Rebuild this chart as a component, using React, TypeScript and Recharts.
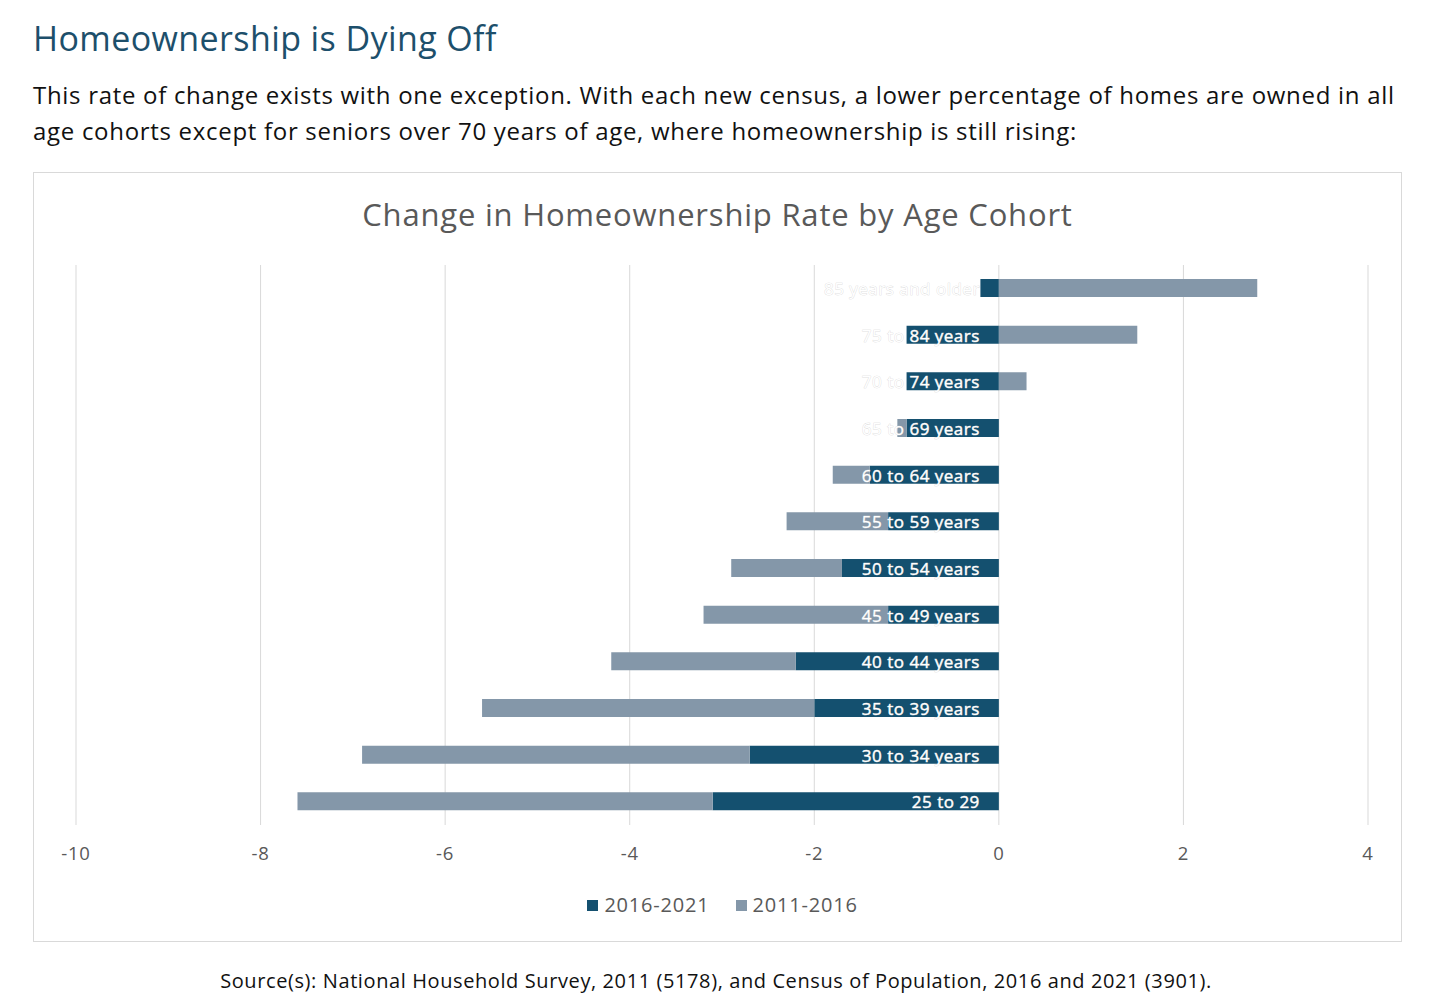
import React from 'react';
import { BarChart, Bar, XAxis, YAxis, CartesianGrid } from 'recharts';

const AGE_GROUPS = [
  '85 years and older', '75 to 84 years', '70 to 74 years', '65 to 69 years',
  '60 to 64 years', '55 to 59 years', '50 to 54 years', '45 to 49 years',
  '40 to 44 years', '35 to 39 years', '30 to 34 years', '25 to 29',
];
const CHANGE_2016_2021 = [-0.2, -1.0, -1.0, -1.0, -1.4, -1.2, -1.7, -1.2, -2.2, -2.0, -2.7, -3.1];
const CHANGE_2011_2016 = [2.8, 1.5, 0.3, -0.1, -0.4, -1.1, -1.2, -2.0, -2.0, -3.6, -4.2, -4.5];
const X_TICKS = [-10, -8, -6, -4, -2, 0, 2, 4];

const DARK = '#14506f';
const GREY = '#8497a9';
const FONT = '"Open Sans", Roboto, sans-serif';

const data = AGE_GROUPS.map((age, i) => ({
  age,
  recent: CHANGE_2016_2021[i],
  earlier: CHANGE_2011_2016[i],
}));

const CHART_W = 1367;
const CHART_H = 768;
// y axis is 1px wide (a 0-wide axis draws no ticks), so left margin is 41
const MARGIN = { top: 92, right: 33, bottom: 76, left: 41 };
const Y_AXIS_W = 1;
const X_MIN = -10;
const X_MAX = 4;
const PLOT_LEFT = MARGIN.left + Y_AXIS_W;
const PLOT_W = CHART_W - PLOT_LEFT - MARGIN.right;
const ZERO_X = PLOT_LEFT + ((0 - X_MIN) / (X_MAX - X_MIN)) * PLOT_W;

function CohortTick({ y, payload }: { y?: number; payload?: { value: string } }) {
  return (
    <text
      x={ZERO_X - 19}
      y={y}
      textAnchor="end"
      dominantBaseline="central"
      fill="#ffffff"
      stroke="#d4d4d4"
      strokeWidth={0.6}
      paintOrder="stroke"
      fontSize={17}
      letterSpacing={0.5}
      fontFamily={FONT}
    >
      {payload?.value}
    </text>
  );
}

export default function App() {
  return (
    <div style={{ position: 'absolute', left: 0, top: 0, width: 1456, height: 1007, background: '#fff', fontFamily: FONT, overflow: 'hidden' }}>
      <div style={{ position: 'absolute', left: 33, top: 18, fontSize: 34, lineHeight: '40px', letterSpacing: 0.4, color: '#1d4f6b', whiteSpace: 'nowrap' }}>
        Homeownership is Dying Off
      </div>
      <div style={{ position: 'absolute', left: 33, top: 77, fontSize: 24, lineHeight: '36px', letterSpacing: 0.7, color: '#111', whiteSpace: 'nowrap' }}>
        This rate of change exists with one exception. With each new census, a lower percentage of homes are owned in all
        <br />
        age cohorts except for seniors over 70 years of age, where homeownership is still rising:
      </div>

      <div style={{ position: 'absolute', left: 33, top: 172, width: CHART_W, height: CHART_H, border: '1px solid #d9d9d9' }}>
        <div style={{ position: 'absolute', left: 0, top: 21, width: '100%', textAlign: 'center', fontSize: 31, lineHeight: '40px', letterSpacing: 0.8, color: '#595959' }}>
          Change in Homeownership Rate by Age Cohort
        </div>
        <BarChart
          width={CHART_W}
          height={CHART_H}
          data={data}
          layout="vertical"
          stackOffset="sign"
          margin={MARGIN}
          barSize={18}
        >
          <CartesianGrid horizontal={false} vertical stroke="#d9d9d9" />
          <XAxis
            type="number"
            domain={[X_MIN, X_MAX]}
            ticks={X_TICKS}
            allowDataOverflow
            tickLine={false}
            axisLine={false}
            tickMargin={16}
            tick={{ fontSize: 18.5, fill: '#595959', fontFamily: FONT, letterSpacing: 0.8 }}
            height={40}
          />
          <Bar dataKey="recent" name="2016-2021" stackId="a" fill={DARK} isAnimationActive={false} />
          <Bar dataKey="earlier" name="2011-2016" stackId="a" fill={GREY} isAnimationActive={false} />
          <YAxis
            type="category"
            dataKey="age"
            width={Y_AXIS_W}
            interval={0}
            tickLine={false}
            axisLine={false}
            tick={(props: any) => <CohortTick {...props} />}
          />
        </BarChart>
        <div style={{ position: 'absolute', left: 0, top: 720, width: '100%', display: 'flex', justifyContent: 'center', gap: 26, fontSize: 20, lineHeight: '24px', letterSpacing: 0.8, color: '#595959', paddingLeft: 10, boxSizing: 'border-box' }}>
          <span style={{ display: 'flex', alignItems: 'center', gap: 6 }}>
            <span style={{ width: 11, height: 11, background: DARK, display: 'inline-block' }} />
            2016-2021
          </span>
          <span style={{ display: 'flex', alignItems: 'center', gap: 6 }}>
            <span style={{ width: 11, height: 11, background: GREY, display: 'inline-block' }} />
            2011-2016
          </span>
        </div>
      </div>

      <div style={{ position: 'absolute', left: 0, top: 968, width: 1432, textAlign: 'center', fontSize: 20, lineHeight: '26px', letterSpacing: 0.6, color: '#111' }}>
        Source(s): National Household Survey, 2011 (5178), and Census of Population, 2016 and 2021 (3901).
      </div>
    </div>
  );
}
